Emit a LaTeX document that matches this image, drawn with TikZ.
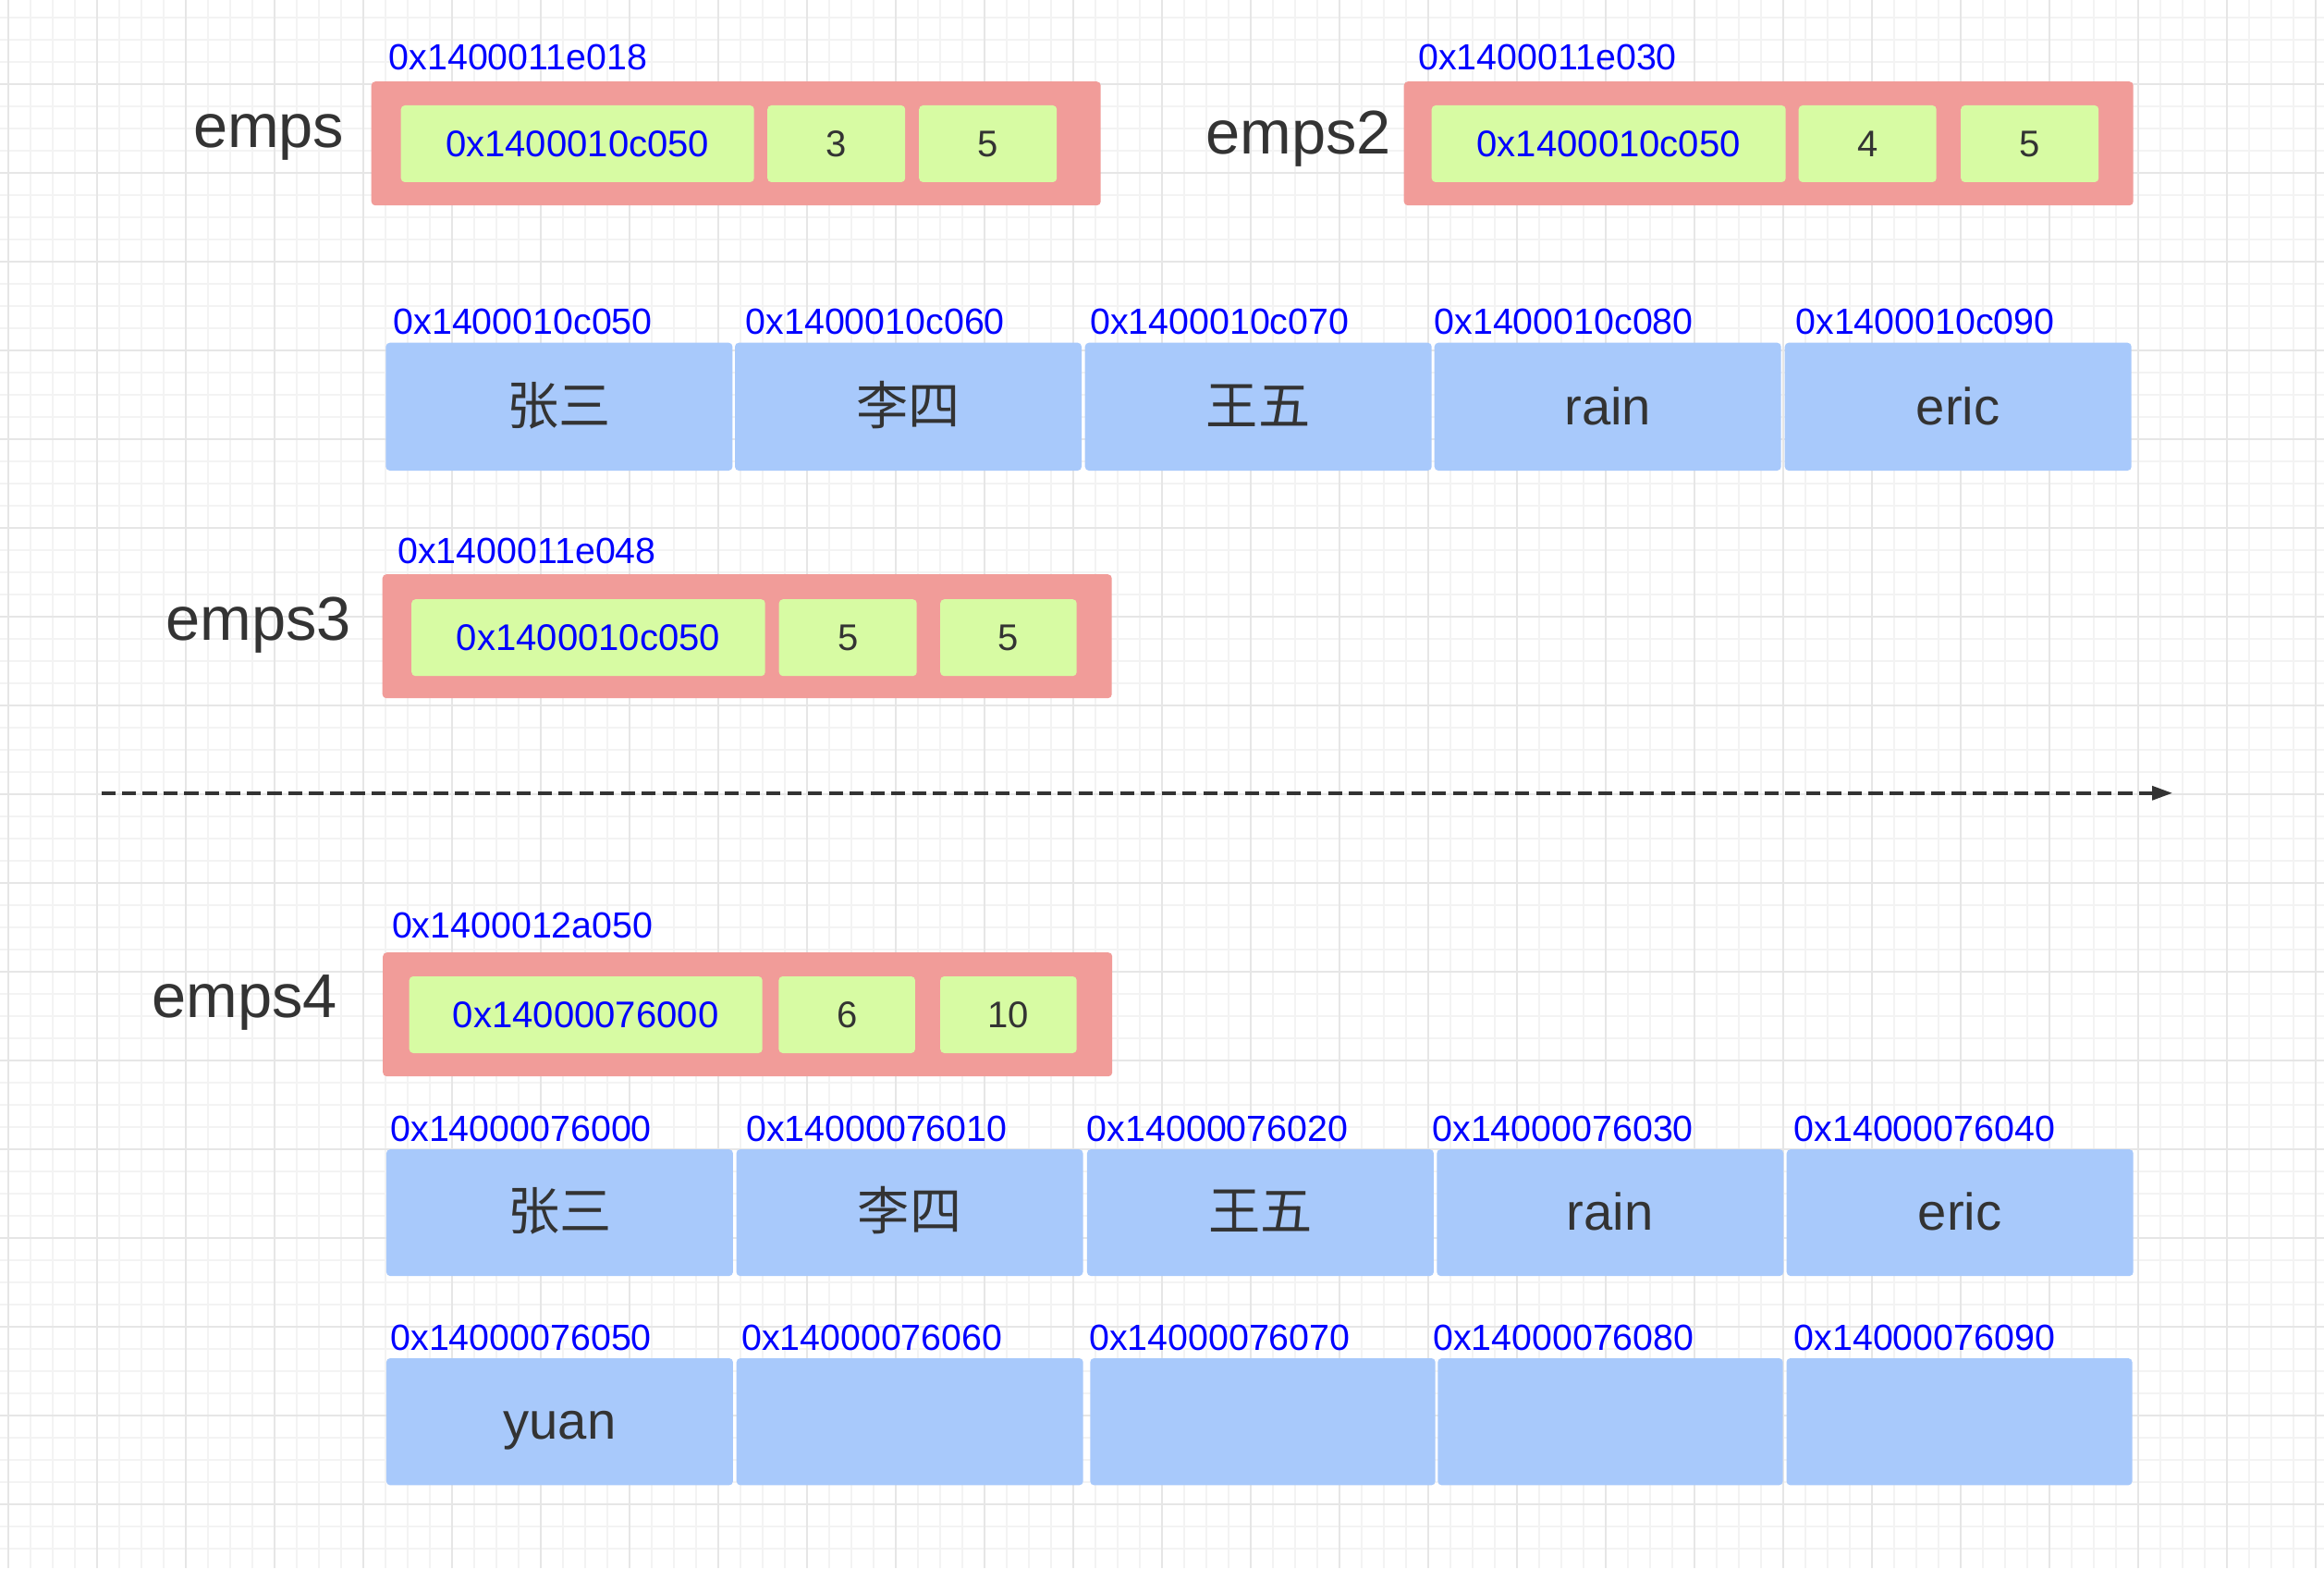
\documentclass[tikz,border=0pt]{standalone}
\usepackage{fontspec}
\setmainfont{Liberation Sans}
\newfontfamily\cjk{Noto Sans CJK SC}
\usetikzlibrary{arrows.meta}

\definecolor{hdrred}{HTML}{F19C99}
\definecolor{cellgreen}{HTML}{D7FBA3}
\definecolor{elemblue}{HTML}{A8C9FB}
\definecolor{addrblue}{HTML}{0000FF}
\definecolor{ink}{HTML}{333333}
\definecolor{gridfine}{HTML}{F3F3F3}
\definecolor{gridbold}{HTML}{E6E6E6}

\begin{document}
\begin{tikzpicture}[
  hdr/.style={fill=hdrred, rounded corners=1.2pt, anchor=north west, minimum width=7.89cm, minimum height=1.34cm, inner sep=0pt},
  fld/.style={fill=cellgreen, rounded corners=1.2pt, anchor=north west, minimum height=0.83cm, inner sep=0pt, text=ink, font=\fontsize{11.4}{12}\selectfont},
  elem/.style={fill=elemblue, rounded corners=1.2pt, anchor=north west, minimum width=3.75cm, inner sep=0pt, text=ink, font=\fontsize{16}{17}\selectfont, text height=10.9pt, text depth=0pt},
  addr/.style={anchor=west, inner sep=0pt, text=addrblue, font=\fontsize{11.2}{12}\selectfont},
  var/.style={anchor=base east, inner sep=0pt, text=ink, font=\fontsize{19}{20}\selectfont},
]
\useasboundingbox (0,0) rectangle (25.14,16.96);

%papier quadrille
\fill[white] (0,0) rectangle (25.14,16.96);
\foreach \i in {0,...,104} \draw[gridfine, line width=0.4pt] ({0.088+0.24*\i},0) -- ({0.088+0.24*\i},16.96);
\foreach \j in {0,...,69} \draw[gridfine, line width=0.4pt] (0,{16.77-0.24*\j}) -- (25.14,{16.77-0.24*\j});
\foreach \i in {0,...,26} \draw[gridbold, line width=0.55pt] ({0.088+0.96*\i},0) -- ({0.088+0.96*\i},16.96);
\foreach \j in {0,...,16} \draw[gridbold, line width=0.55pt] (0,{16.05-0.96*\j}) -- (25.14,{16.05-0.96*\j});

%emps
\node[hdr] (emps) at (4.01,16.085) {};
\node[addr] (emps-addr) at (4.20,16.34) {0x1400011e018};
\node[var] (emps-name) at (3.73,15.36) {emps};
\node[fld, minimum width=3.82cm, text=addrblue] (emps-ptr) at (4.33,15.827) {0x1400010c050};
\node[fld, minimum width=1.49cm] (emps-len) at (8.295,15.827) {3};
\node[fld, minimum width=1.49cm] (emps-cap) at (9.935,15.827) {5};

%emps2
\node[hdr] (emps2) at (15.18,16.085) {};
\node[addr] (emps2-addr) at (15.337,16.34) {0x1400011e030};
\node[var] (emps2-name) at (15.055,15.293) {emps2};
\node[fld, minimum width=3.83cm, text=addrblue] (emps2-ptr) at (15.48,15.827) {0x1400010c050};
\node[fld, minimum width=1.49cm] (emps2-len) at (19.45,15.827) {4};
\node[fld, minimum width=1.49cm] (emps2-cap) at (21.205,15.827) {5};

%tableau sous-jacent
\node[elem, minimum height=1.383cm] (a1) at (4.167,13.26) {\cjk 张三};
\node[elem, minimum height=1.383cm] (a2) at (7.943,13.26) {\cjk 李四};
\node[elem, minimum height=1.383cm] (a3) at (11.73,13.26) {\cjk 王五};
\node[elem, minimum height=1.383cm] (a4) at (15.51,13.26) {rain};
\node[elem, minimum height=1.383cm] (a5) at (19.30,13.26) {eric};
\node[addr] (a1-addr) at (4.249,13.48) {0x1400010c050};
\node[addr] (a2-addr) at (8.06,13.48) {0x1400010c060};
\node[addr] (a3-addr) at (11.784,13.48) {0x1400010c070};
\node[addr] (a4-addr) at (15.509,13.48) {0x1400010c080};
\node[addr] (a5-addr) at (19.418,13.48) {0x1400010c090};

%emps3
\node[hdr] (emps3) at (4.13,10.755) {};
\node[addr] (emps3-addr) at (4.296,11.003) {0x1400011e048};
\node[var] (emps3-name) at (3.806,10.04) {emps3};
\node[fld, minimum width=3.825cm, text=addrblue] (emps3-ptr) at (4.445,10.485) {0x1400010c050};
\node[fld, minimum width=1.49cm] (emps3-len) at (8.42,10.485) {5};
\node[fld, minimum width=1.475cm] (emps3-cap) at (10.165,10.485) {5};

%append
\coordinate (grow-start) at (1.095,8.382);
\coordinate (grow-end) at (23.50,8.382);
\draw[ink, line width=1pt, dash pattern=on 4.3pt off 2.1pt, -{Triangle[length=6.2pt,width=4.2pt]}] (grow-start) -- (grow-end);

%emps4
\node[hdr] (emps4) at (4.135,6.665) {};
\node[addr] (emps4-addr) at (4.233,6.955) {0x1400012a050};
\node[var] (emps4-name) at (3.658,5.96) {emps4};
\node[fld, minimum width=3.82cm, text=addrblue] (emps4-ptr) at (4.42,6.407) {0x14000076000};
\node[fld, minimum width=1.475cm] (emps4-len) at (8.417,6.407) {6};
\node[fld, minimum width=1.475cm] (emps4-cap) at (10.165,6.407) {10};

%nouveau tableau
\node[elem, minimum height=1.37cm] (b1) at (4.172,4.536) {\cjk 张三};
\node[elem, minimum height=1.37cm] (b2) at (7.958,4.536) {\cjk 李四};
\node[elem, minimum height=1.37cm] (b3) at (11.752,4.536) {\cjk 王五};
\node[elem, minimum height=1.37cm] (b4) at (15.536,4.536) {rain};
\node[elem, minimum height=1.37cm] (b5) at (19.32,4.536) {eric};
\node[addr] (b1-addr) at (4.218,4.75) {0x14000076000};
\node[addr] (b2-addr) at (8.065,4.75) {0x14000076010};
\node[addr] (b3-addr) at (11.752,4.75) {0x14000076020};
\node[addr] (b4-addr) at (15.488,4.75) {0x14000076030};
\node[addr] (b5-addr) at (19.40,4.75) {0x14000076040};

\node[elem, minimum height=1.374cm] (c1) at (4.172,2.277) {yuan};
\node[elem, minimum height=1.374cm] (c2) at (7.96,2.277) {};
\node[elem, minimum height=1.374cm, minimum width=3.734cm] (c3) at (11.786,2.277) {};
\node[elem, minimum height=1.374cm, minimum width=3.734cm] (c4) at (15.546,2.277) {};
\node[elem, minimum height=1.374cm, minimum width=3.74cm] (c5) at (19.318,2.277) {};
\node[addr] (c1-addr) at (4.218,2.49) {0x14000076050};
\node[addr] (c2-addr) at (8.014,2.49) {0x14000076060};
\node[addr] (c3-addr) at (11.775,2.49) {0x14000076070};
\node[addr] (c4-addr) at (15.495,2.49) {0x14000076080};
\node[addr] (c5-addr) at (19.40,2.49) {0x14000076090};

\end{tikzpicture}
\end{document}
